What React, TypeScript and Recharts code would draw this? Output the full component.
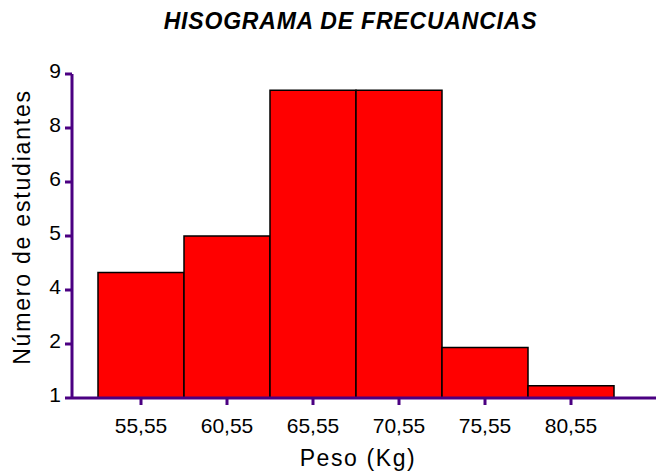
import React from 'react';
import { BarChart, Bar, XAxis, YAxis, Label } from 'recharts';

const classMarks = ['55,55', '60,55', '65,55', '70,55', '75,55', '80,55'];
const frequencies = [4.1, 5.0, 8.6, 8.6, 2.25, 1.3];
const yTicks = [1, 7 / 3, 11 / 3, 5, 19 / 3, 23 / 3, 9];

const data = classMarks.map((mark, i) => ({ mark, count: frequencies[i] }));

const FONT = '"Liberation Sans", Arial, sans-serif';
const AXIS = '#4B0082';

export default function App() {
  return (
    <div style={{ position: 'absolute', left: 0, top: 0, width: 656, height: 475, background: '#fff', fontFamily: FONT }}>
      <div
        style={{
          position: 'absolute',
          left: 0,
          top: 8,
          width: 701,
          textAlign: 'center',
          fontSize: 23,
          fontWeight: 'bold',
          fontStyle: 'italic',
          letterSpacing: 0.8,
          color: '#000',
        }}
      >
        HISOGRAMA DE FRECUANCIAS
      </div>
      <BarChart
        width={656}
        height={475}
        data={data}
        margin={{ top: 74, right: 0, bottom: 0, left: 0 }}
        barCategoryGap={0}
        style={{ fontFamily: FONT }}
      >
        <XAxis
          dataKey="mark"
          height={77}
          padding={{ left: 26, right: 42 }}
          axisLine={{ stroke: AXIS, strokeWidth: 3 }}
          tickLine={{ stroke: AXIS, strokeWidth: 3 }}
          tickSize={7}
          tickMargin={13}
          tick={{ fill: '#000', fontSize: 21 }}
        >
          <Label
            value="Peso (Kg)"
            position="insideBottom"
            offset={9}
            dx={-6}
            style={{ fill: '#000', fontSize: 23, letterSpacing: 1.6 }}
          />
        </XAxis>
        <YAxis
          type="number"
          domain={[1, 9]}
          ticks={yTicks}
          interval={0}
          width={72}
          tickFormatter={(v: number) => String(Math.round(v))}
          axisLine={{ stroke: AXIS, strokeWidth: 3 }}
          tickLine={{ stroke: AXIS, strokeWidth: 3 }}
          tickSize={7}
          tickMargin={4}
          tick={{ fill: '#000', fontSize: 21, dy: -3 }}
        >
          <Label
            value="Número de estudiantes"
            angle={-90}
            position="center"
            dx={-14}
            dy={-9}
            style={{ fill: '#000', fontSize: 23, letterSpacing: 1.8 }}
          />
        </YAxis>
        <Bar dataKey="count" fill="#FF0000" stroke="#000" strokeWidth={1.5} isAnimationActive={false} />
      </BarChart>
    </div>
  );
}
